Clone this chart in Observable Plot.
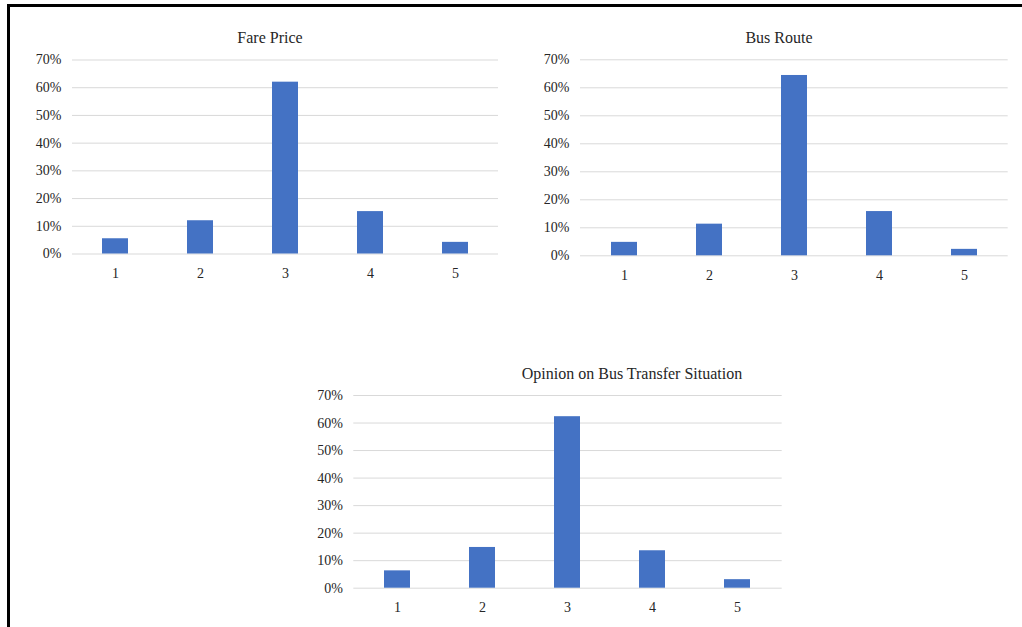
<!DOCTYPE html>
<html>
<head>
<meta charset="utf-8">
<script src="https://cdn.jsdelivr.net/npm/d3@7"></script>
<script src="https://cdn.jsdelivr.net/npm/@observablehq/plot@0.6"></script>
<style>
  html, body { margin: 0; padding: 0; background: #fff; }
  #wrap { position: relative; width: 1022px; height: 627px; overflow: hidden; background: #fff; }
  #frame { position: absolute; left: 7px; top: 4px; width: 1030px; height: 640px;
           border-left: 3px solid #000; border-top: 3px solid #000; box-sizing: border-box; }
  .chart { position: absolute; }
  .title { position: absolute; width: 400px; text-align: center; font-family: "Liberation Serif", "Times New Roman", serif;
           font-size: 16px; line-height: 20px; color: #262626; white-space: nowrap; }
</style>
</head>
<body>
<div id="wrap">
  <div id="frame"></div>
</div>
<script>
// ---- data ----
const categories = ["1", "2", "3", "4", "5"];
const farePrice = [0.055, 0.120, 0.620, 0.153, 0.042];
const busRoute = [0.048, 0.113, 0.644, 0.158, 0.023];
const transferOpinion = [0.063, 0.148, 0.623, 0.136, 0.031];
const yTicks = [0, 0.1, 0.2, 0.3, 0.4, 0.5, 0.6, 0.7];
const titles = ["Fare Price", "Bus Route", "Opinion on Bus Transfer Situation"];

const wrap = document.getElementById("wrap");

function makeChart(values, box, titleText, titlePos) {
  const data = categories.map((c, i) => ({cat: c, value: values[i]}));
  const chart = Plot.plot({
    width: box.width,
    height: box.height,
    marginLeft: box.ml,
    marginRight: box.mr,
    marginTop: box.mt,
    marginBottom: box.mb,
    style: {fontFamily: "'Liberation Serif', 'Times New Roman', serif", fontSize: "14px", color: "#262626", background: "transparent"},
    x: {domain: categories, paddingInner: 0.69, paddingOuter: 0.345, label: null},
    y: {domain: [0, 0.7], label: null},
    marks: [
      Plot.gridY(yTicks, {stroke: "#d9d9d9", strokeOpacity: 1, strokeWidth: 1}),
      Plot.barY(data, {x: "cat", y: "value", fill: "#4472c4"}),
      Plot.axisY({ticks: yTicks, tickFormat: d3.format(".0%"), tickSize: 0, tickPadding: 11, label: null}),
      Plot.axisX({tickSize: 0, tickPadding: 14, label: null})
    ]
  });
  chart.classList.add("chart");
  chart.style.left = box.left + "px";
  chart.style.top = box.top + "px";
  wrap.appendChild(chart);

  const t = document.createElement("div");
  t.className = "title";
  t.textContent = titleText;
  t.style.left = (titlePos[0] - 200) + "px";
  t.style.top = (titlePos[1] - 10) + "px";
  wrap.appendChild(t);
}

makeChart(farePrice, {left: 10, top: 20, width: 500, height: 275, ml: 62, mr: 12, mt: 39.5, mb: 41.5}, titles[0], [270, 38]);
makeChart(busRoute, {left: 515, top: 20, width: 500, height: 275, ml: 65, mr: 7.3, mt: 39.3, mb: 39.7}, titles[1], [779, 38]);
makeChart(transferOpinion, {left: 290, top: 380, width: 500, height: 245, ml: 63.3, mr: 8.3, mt: 15, mb: 37.3}, titles[2], [632, 374]);
</script>
</body>
</html>
